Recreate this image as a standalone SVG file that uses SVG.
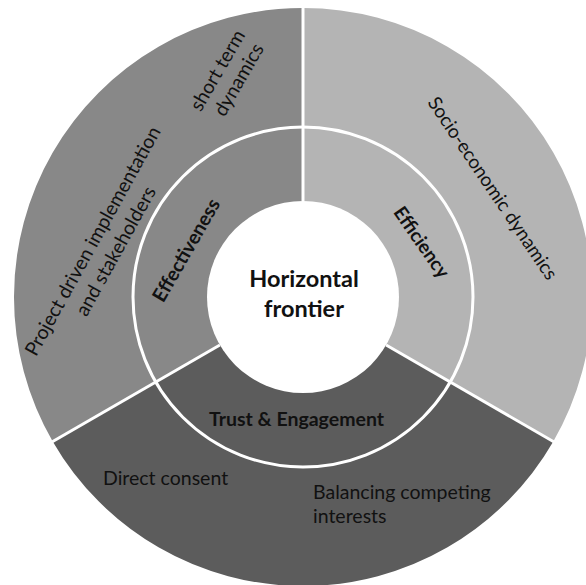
<svg xmlns="http://www.w3.org/2000/svg" width="586" height="585" viewBox="0 0 586 585">
<style>
  .t { font-family: Lato, "Open Sans", "Liberation Sans", sans-serif; fill: #111; }
  .b { font-weight: bold; }
  .sep { stroke: #ffffff; stroke-width: 3; fill: none; }
</style>
<rect width="586" height="585" fill="#ffffff"/>
<g id="sector-effectiveness">
  <path d="M303,297 L52.7,441.5 A289,289 0 0 1 303,8 Z" fill="#888888"/>
</g>
<g id="sector-efficiency">
  <path d="M303,297 L303,8 A289,289 0 0 1 553.3,441.5 Z" fill="#b4b4b4"/>
</g>
<g id="sector-trust">
  <path d="M303,297 L553.3,441.5 A289,289 0 0 1 52.7,441.5 Z" fill="#5c5c5c"/>
</g>
<g id="connectors">
  <line class="sep" x1="303" y1="201" x2="303" y2="6"/>
  <line class="sep" x1="386.1" y1="345" x2="555" y2="442.5"/>
  <line class="sep" x1="219.9" y1="345" x2="51" y2="442.5"/>
  <circle class="sep" cx="303" cy="297" r="170" stroke-width="2.5"/>
</g>
<g id="center">
  <circle cx="303" cy="297" r="96" fill="#ffffff"/>
  <text class="t b" x="304" y="287" font-size="23.5" text-anchor="middle">Horizontal</text>
  <text class="t b" x="304" y="316.5" font-size="23.5" text-anchor="middle">frontier</text>
</g>
<g id="label-effectiveness">
  <text class="t b" font-size="19.5" text-anchor="middle" transform="translate(186,250) rotate(-60)" y="7">Effectiveness</text>
</g>
<g id="label-efficiency">
  <text class="t b" font-size="19" text-anchor="middle" transform="translate(422,242) rotate(55)" y="7">Efficiency</text>
</g>
<g id="label-trust">
  <text class="t b" font-size="19.5" text-anchor="middle" x="296.5" y="426">Trust &amp; Engagement</text>
</g>
<g id="label-socio">
  <text class="t" font-size="19" text-anchor="middle" transform="translate(493,188) rotate(56)" y="7">Socio-economic dynamics</text>
</g>
<g id="label-project">
  <text class="t" font-size="19.5" text-anchor="middle" transform="translate(105,245) rotate(-61)">
    <tspan x="0" y="-6">Project driven implementation</tspan>
    <tspan x="0" y="19">and stakeholders</tspan>
  </text>
</g>
<g id="label-short">
  <text class="t" font-size="19.5" text-anchor="middle" transform="translate(224.5,71.5) rotate(-60)">
    <tspan x="0" y="0">short term</tspan>
    <tspan x="0" y="23">dynamics</tspan>
  </text>
</g>
<g id="label-direct">
  <text class="t" font-size="19.5" x="103" y="485">Direct consent</text>
</g>
<g id="label-balancing">
  <text class="t" font-size="19.5" x="313" y="499">Balancing competing</text>
  <text class="t" font-size="19.5" x="313" y="523">interests</text>
</g>
</svg>
